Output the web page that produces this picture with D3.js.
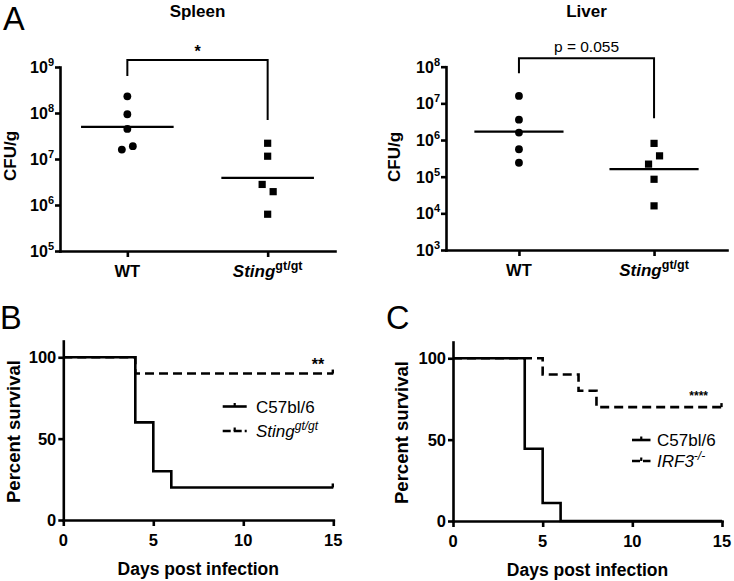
<!DOCTYPE html>
<html><head><meta charset="utf-8">
<script src="https://cdn.jsdelivr.net/npm/d3@7"></script>
<style>
body{margin:0;background:#fff}
svg{display:block}
text{font-family:"Liberation Sans",Arial,Helvetica,sans-serif;fill:#000}
</style>
</head><body>
<svg id="c" width="734" height="581"></svg>
<script>
// ---------------- DATA ----------------
const dotCategories = ["WT", "Sting"];
// Panel A – Spleen (CFU/g)
const spleenWT    = [2.3e8, 9.4e7, 4.5e7, 1.6e7, 1.9e7];
const spleenSting = [2.2e7, 1.15e7, 2.8e6, 1.95e6, 6.3e5];
const spleenMeans = [5.0e7, 3.9e6];
const spleenTicks = [1e5, 1e6, 1e7, 1e8, 1e9];
// Panel A – Liver (CFU/g)
const liverWT    = [1.6e7, 3.6e6, 1.6e6, 5.6e5, 2.4e5];
const liverSting = [8.1e5, 2.2e5, 3.7e5, 8.5e4, 1.6e4];
const liverMeans = [1.7e6, 1.6e5];
const liverTicks = [1e3, 1e4, 1e5, 1e6, 1e7, 1e8];
// Panels B/C – survival
const survivalXTicks = [0, 5, 10, 15];
const survivalYTicks = [0, 50, 100];
const bC57Days   = [0, 4, 5, 6, 15];
const bC57Surv   = [100, 60, 30, 20, 20];
const bStingDays = [0, 4, 15];
const bStingSurv = [100, 90, 90];
const cC57Days   = [0, 4, 5, 6, 15];
const cC57Surv   = [100, 44.4, 11.1, 0, 0];
const cIRF3Days  = [0, 5, 7, 8, 15];
const cIRF3Surv  = [100, 90, 80, 70, 70];

// ---------------- DRAW ----------------
const svg = d3.select("#c");
const LW = 2.6;
const FONT_B = "bold";

function styleAxis(sel) {
  sel.select(".domain").attr("stroke", "#000").attr("stroke-width", LW).attr("stroke-linecap", "square");
  sel.selectAll(".tick line").attr("stroke", "#000").attr("stroke-width", LW);
  sel.selectAll(".tick text").remove();
}

function jitter(ys, thr, sp) {
  const idx = ys.map((_, i) => i).sort((a, b) => ys[a] - ys[b]);
  const off = ys.map(() => 0);
  let group = [idx[0]];
  const flush = () => {
    const g = group.slice().sort((a, b) => a - b);
    g.forEach((k, n) => off[k] = (n - (g.length - 1) / 2) * sp);
  };
  for (let k = 1; k < idx.length; k++) {
    if (ys[idx[k]] - ys[idx[k - 1]] < thr) group.push(idx[k]);
    else { flush(); group = [idx[k]]; }
  }
  flush();
  return off;
}

function dotPanel(o) {
  const g = svg.append("g");
  const y = d3.scaleLog().domain(o.domain).range([o.y0, o.y1]);
  const x = d3.scalePoint().domain(dotCategories).range([o.x0, o.x1]).padding(o.pad);

  // axes
  const ya = g.append("g").attr("transform", `translate(${o.x0},0)`)
    .call(d3.axisLeft(y).tickValues(o.ticks).tickSize(5).tickSizeOuter(0));
  styleAxis(ya);
  const xa = g.append("g").attr("transform", `translate(0,${o.y0})`)
    .call(d3.axisBottom(x).tickSize(6).tickSizeOuter(0));
  styleAxis(xa);

  // y tick labels 10^n
  o.ticks.forEach(t => {
    const tx = g.append("text").attr("x", o.x0 - 6).attr("y", y(t) + 6)
      .attr("text-anchor", "end").attr("font-weight", FONT_B);
    tx.append("tspan").attr("font-size", 16).text("10");
    tx.append("tspan").attr("font-size", 11).attr("dy", -7).text(Math.round(Math.log10(t)));
  });
  // x labels
  g.append("text").attr("x", x("WT")).attr("y", o.y0 + 25.5).attr("text-anchor", "middle")
    .attr("font-weight", FONT_B).attr("font-size", 16.5).text("WT");
  const st = g.append("text").attr("x", x("Sting")).attr("y", o.y0 + 25.5).attr("text-anchor", "middle")
    .attr("font-weight", FONT_B);
  st.append("tspan").attr("font-size", 17).attr("font-style", "italic").text("Sting");
  st.append("tspan").attr("font-size", 12.5).attr("dy", -7).text("gt/gt");

  // points
  [o.wt, o.sting].forEach((vals, i) => {
    const cx = x(dotCategories[i]);
    const ys = vals.map(v => y(v));
    const offs = jitter(ys, 10, 11);
    vals.forEach((v, j) => {
      if (i === 0) {
        g.append("circle").attr("cx", cx + offs[j]).attr("cy", y(v)).attr("r", 3.9).attr("fill", "#000");
      } else {
        g.append("rect").attr("x", cx + offs[j] - 3.6).attr("y", y(v) - 3.6)
          .attr("width", 7.2).attr("height", 7.2).attr("fill", "#000");
      }
    });
    const hw = x.step() * 0.33;
    g.append("line").attr("x1", cx - hw).attr("x2", cx + hw)
      .attr("y1", y(o.means[i])).attr("y2", y(o.means[i]))
      .attr("stroke", "#000").attr("stroke-width", 2.2);
  });

  // bracket
  const xa1 = x("WT"), xb1 = x("Sting");
  g.append("path").attr("d", `M${xa1},${o.bLeft}V${o.bTop}H${xb1}V${o.bRight}`)
    .attr("fill", "none").attr("stroke", "#000").attr("stroke-width", 2);
  g.append("text").attr("x", (xa1 + xb1) / 2).attr("y", o.sigY).attr("text-anchor", "middle")
    .attr("font-weight", o.sigBold ? "bold" : "normal").attr("font-size", o.sigSize).text(o.sig);

  // title
  g.append("text").attr("x", (o.x0 + o.x1) / 2).attr("y", 16.7).attr("text-anchor", "middle")
    .attr("font-weight", FONT_B).attr("font-size", 17).text(o.title);
  // y label
  g.append("text").attr("transform", `translate(${o.ylx},${o.yly}) rotate(-90)`)
    .attr("text-anchor", "middle").attr("font-weight", FONT_B).attr("font-size", 17).text("CFU/g");
}

dotPanel({
  title: "Spleen", domain: [1e5, 1e9], ticks: spleenTicks, x0: 60, x1: 335, y0: 251, y1: 67, pad: 0.48,
  wt: spleenWT, sting: spleenSting, means: spleenMeans,
  bTop: 60, bLeft: 76, bRight: 120, sig: "*", sigY: 57, sigSize: 16, sigBold: true,
  ylx: 15.5, yly: 156
});
dotPanel({
  title: "Liver", domain: [1e3, 1e8], ticks: liverTicks, x0: 446, x1: 727, y0: 250, y1: 66.7, pad: 0.54,
  wt: liverWT, sting: liverSting, means: liverMeans,
  bTop: 58.3, bLeft: 73.3, bRight: 118.3, sig: "p = 0.055", sigY: 51.5, sigSize: 15.5, sigBold: false,
  ylx: 400, yly: 157
});

function survPanel(o) {
  const g = svg.append("g");
  const x = d3.scaleLinear().domain([0, 15]).range([o.x0, o.x1]);
  const y = d3.scaleLinear().domain([0, 110]).range([o.y0, o.yTop]);

  const ya = g.append("g").attr("transform", `translate(${o.x0},0)`)
    .call(d3.axisLeft(y).tickValues(survivalYTicks).tickSize(5).tickSizeOuter(0));
  styleAxis(ya);
  const xa = g.append("g").attr("transform", `translate(0,${o.y0})`)
    .call(d3.axisBottom(x).tickValues(survivalXTicks).tickSize(6).tickSizeOuter(0));
  styleAxis(xa);

  survivalYTicks.forEach(t => g.append("text").attr("x", o.x0 - 7).attr("y", y(t) + 6)
    .attr("text-anchor", "end").attr("font-weight", FONT_B).attr("font-size", 16.5).text(t));
  survivalXTicks.forEach(t => g.append("text").attr("x", x(t)).attr("y", o.y0 + 26)
    .attr("text-anchor", "middle").attr("font-weight", FONT_B).attr("font-size", 16.5).text(t));

  const line = d3.line().x(d => x(d[0])).y(d => y(d[1])).curve(d3.curveStepAfter);
  const dashedPts = o.dDays.map((d, i) => [d, o.dSurv[i]]);
  const solidPts = o.sDays.map((d, i) => [d, o.sSurv[i]]);
  g.append("path").attr("d", line(dashedPts)).attr("fill", "none").attr("stroke", "#000")
    .attr("stroke-width", LW).attr("stroke-dasharray", "9,5");
  g.append("path").attr("d", line(solidPts)).attr("fill", "none").attr("stroke", "#000")
    .attr("stroke-width", LW);
  // censor ticks at end
  [dashedPts, solidPts].forEach(p => {
    const last = p[p.length - 1];
    if (last[1] > 0) g.append("line").attr("x1", x(last[0]) - 0.5).attr("x2", x(last[0]) - 0.5)
      .attr("y1", y(last[1])).attr("y2", y(last[1]) - 4).attr("stroke", "#000").attr("stroke-width", 2.4);
  });

  // significance
  g.append("text").attr("x", o.sigX).attr("y", o.sigY).attr("text-anchor", "middle")
    .attr("font-weight", FONT_B).attr("font-size", o.sigSize).text(o.sig);

  // legend
  const lg = [[o.leg1Y, null], [o.leg2Y, "9,5"]];
  lg.forEach(([ly, dash], i) => {
    const l = g.append("line").attr("x1", o.legX0).attr("x2", o.legX1).attr("y1", ly).attr("y2", ly)
      .attr("stroke", "#000").attr("stroke-width", LW);
    if (dash) l.attr("stroke-dasharray", "8,3");
    const mx = (o.legX0 + o.legX1) / 2;
    g.append("line").attr("x1", mx).attr("x2", mx).attr("y1", ly).attr("y2", ly - 3.5)
      .attr("stroke", "#000").attr("stroke-width", 2.2);
  });
  g.append("text").attr("x", o.legTx).attr("y", o.leg1Y + 6).attr("font-size", 17).text("C57bl/6");
  const t2 = g.append("text").attr("x", o.legTx).attr("y", o.leg2Y + 6).attr("font-size", 17).attr("font-style", "italic");
  t2.append("tspan").text(o.leg2Main);
  t2.append("tspan").attr("font-size", 12).attr("dy", -7).text(o.leg2Sup);

  // axis titles
  g.append("text").attr("x", (o.x0 + o.x1) / 2).attr("y", o.xtY).attr("text-anchor", "middle")
    .attr("font-weight", FONT_B).attr("font-size", 17.5).text("Days post infection");
  g.append("text").attr("transform", `translate(${o.ylx},${(o.y0 + o.yTop) / 2 + 1}) rotate(-90)`)
    .attr("text-anchor", "middle").attr("font-weight", FONT_B).attr("font-size", 18.5).text("Percent survival");
}

survPanel({
  x0: 63.3, x1: 333.3, y0: 520, yTop: 341,
  sDays: bC57Days, sSurv: bC57Surv, dDays: bStingDays, dSurv: bStingSurv,
  sig: "**", sigX: 318, sigY: 370, sigSize: 16,
  legX0: 222.7, legX1: 246.7, leg1Y: 406.5, leg2Y: 431, legTx: 256,
  leg2Main: "Sting", leg2Sup: "gt/gt", xtY: 575, ylx: 19.5
});
survPanel({
  x0: 453, x1: 722, y0: 521, yTop: 342,
  sDays: cC57Days, sSurv: cC57Surv, dDays: cIRF3Days, dSurv: cIRF3Surv,
  sig: "****", sigX: 698.7, sigY: 400, sigSize: 12,
  legX0: 632, legX1: 650.5, leg1Y: 440, leg2Y: 461, legTx: 657,
  leg2Main: "IRF3", leg2Sup: "-/-", xtY: 576, ylx: 408
});

// panel letters
[["A", 3, 29.5], ["B", 0, 329.3], ["C", 386, 329.3]].forEach(([t, x, y]) =>
  svg.append("text").attr("x", x).attr("y", y).attr("font-size", 32.5).text(t));
</script>
</body></html>
